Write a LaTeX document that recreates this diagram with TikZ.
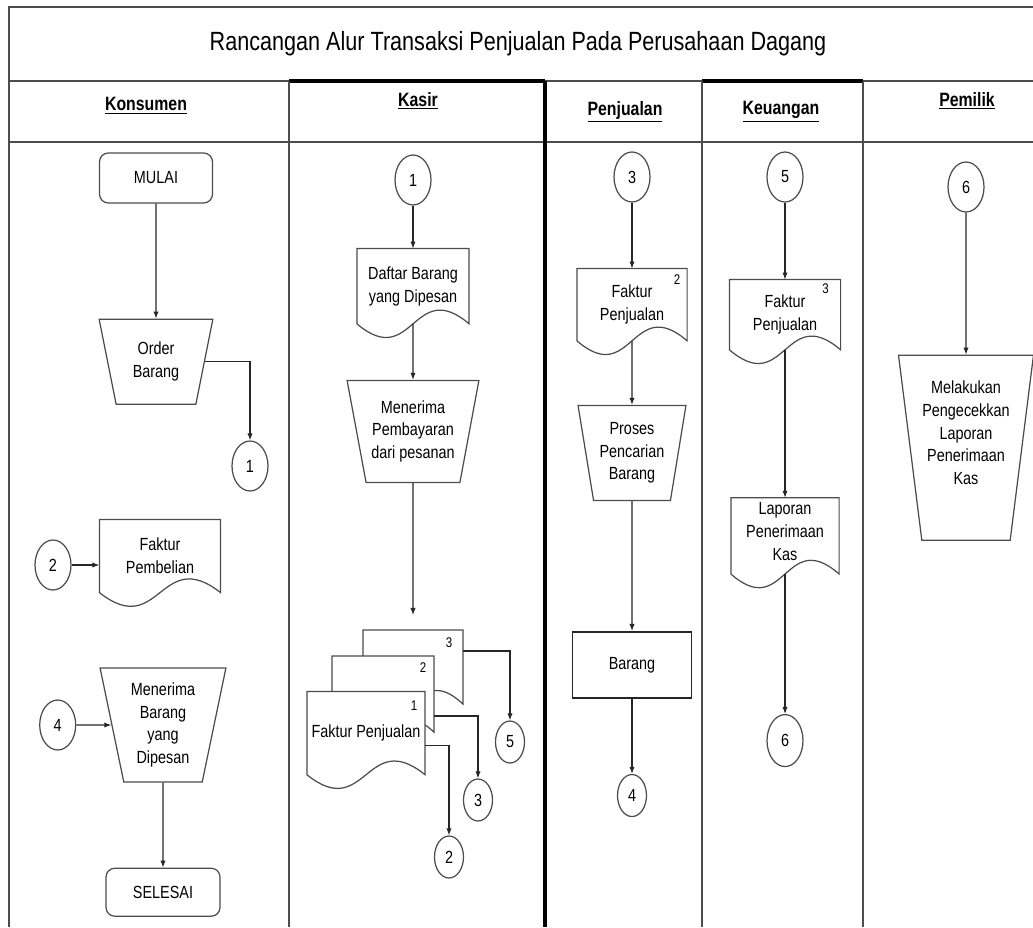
\documentclass[tikz,border=0pt]{standalone}
\usepackage{fontspec}
\setmainfont{Liberation Sans}[FakeStretch=0.82]
\usetikzlibrary{arrows.meta,positioning,shapes.geometric}

% document symbol with a wavy bottom edge
\makeatletter
\pgfdeclareshape{flowdoc}{
  \inheritsavedanchors[from=rectangle]
  \inheritanchorborder[from=rectangle]
  \inheritanchor[from=rectangle]{center}
  \inheritanchor[from=rectangle]{north}
  \inheritanchor[from=rectangle]{south}
  \inheritanchor[from=rectangle]{east}
  \inheritanchor[from=rectangle]{west}
  \inheritanchor[from=rectangle]{north east}
  \inheritanchor[from=rectangle]{north west}
  \inheritanchor[from=rectangle]{south east}
  \inheritanchor[from=rectangle]{south west}
  \backgroundpath{%
    \southwest \edef\docxa{\the\pgf@x}\edef\docya{\the\pgf@y}%
    \northeast \edef\docxb{\the\pgf@x}\edef\docyb{\the\pgf@y}%
    \pgfmathsetmacro\docxc{0.5*(\docxa)+0.5*(\docxb)}%
    \pgfmathsetmacro\docydn{\docya-27}%
    \pgfmathsetmacro\docyup{\docya+27}%
    \pgfpathmoveto{\pgfqpoint{\docxa}{\docya}}%
    \pgfpathcurveto{\pgfqpoint{\docxc pt}{\docydn pt}}{\pgfqpoint{\docxc pt}{\docyup pt}}{\pgfqpoint{\docxb}{\docya}}%
    \pgfpathlineto{\pgfqpoint{\docxb}{\docyb}}%
    \pgfpathlineto{\pgfqpoint{\docxa}{\docyb}}%
    \pgfpathclose
  }
}
\makeatother

\begin{document}
\begin{tikzpicture}[x=0.02cm, y=-0.02cm,
    termblock/.style={draw=black!70, line width=0.7pt, rounded corners=5pt, minimum width=2.26cm, minimum height=1cm, inner sep=1pt, font=\fontsize{10}{13}\selectfont},
    manblock/.style={draw=black!70, line width=0.7pt, trapezium, shape border rotate=180, trapezium stretches=true, trapezium left angle=76, trapezium right angle=76, align=center, inner sep=1pt, font=\fontsize{10}{13}\selectfont},
    docblock/.style={shape=flowdoc, draw=black!70, fill=white, line width=0.7pt, minimum width=2.2cm, minimum height=1.44cm, align=center, inner sep=1pt, font=\fontsize{10}{13}\selectfont},
    procblock/.style={draw=black!85, line width=1.1pt, minimum width=2.38cm, minimum height=1.32cm, font=\fontsize{10}{13}\selectfont},
    conn/.style={draw=black!70, line width=0.7pt, ellipse, minimum width=0.72cm, minimum height=1cm, inner sep=0pt, font=\fontsize{10}{12}\selectfont},
    smallconn/.style={conn, minimum width=0.58cm, minimum height=0.84cm},
    docnum/.style={inner sep=0pt, font=\fontsize{8}{9}\selectfont},
    lanehead/.style={font=\fontsize{11}{13}\selectfont\bfseries},
    frame/.style={draw=black!70, line width=0.8pt},
    arrow/.style={-{Latex[length=4pt,width=3pt]}, draw=black!85, line width=0.6pt}
  ]
  \useasboundingbox (0,0) rectangle (1033,927);

  % Lanes
  \draw[frame] (9,927) -- (9,7) -- (1033,7);
  \draw[frame] (9,81) -- (1033,81);
  \draw[frame] (9,142) -- (1033,142);
  \draw[line width=2.4pt] (289,81) -- (545,81);
  \draw[line width=2.4pt] (702,81) -- (863,81);
  \draw[frame] (289,81) -- (289,927);
  \draw[line width=1.8pt] (545,81) -- (545,927);
  \draw[frame] (702,81) -- (702,927);
  \draw[frame] (863,81) -- (863,927);

  \node (title) at (518,44) {\fontsize{15}{18}\selectfont Rancangan Alur Transaksi Penjualan Pada Perusahaan Dagang};
  \node[lanehead] (hkons) at (146,106) {\underline{Konsumen}};
  \node[lanehead] (hkasir) at (418,101) {\underline{Kasir}};
  \node[lanehead] (hjual) at (625,112) {\underline{Penjualan}};
  \node[lanehead] (huang) at (781,112) {\underline{Keuangan}};
  \node[lanehead] (hmilik) at (967,101) {\underline{Pemilik}};

  % Konsumen
  \node[termblock] (mulai) at (156,178) {MULAI};
  \node[manblock, minimum width=2.28cm, minimum height=1.7cm, below=2.3cm of mulai] (order) {Order\\Barang};
  \node[conn] (k1) at (250,466) {1};
  \node[docblock, minimum width=2.4cm] (fbeli) at (160,556) {Faktur\\Pembelian};
  \node[conn] (k2) at (53,565) {2};
  \node[manblock, minimum width=2.52cm, minimum height=2.28cm, trapezium left angle=77, trapezium right angle=77] (terima) at (163,725) {Menerima\\Barang\\yang\\Dipesan};
  \node[conn, left=0.7cm of terima] (k4) {4};
  \node[termblock, minimum width=2.28cm, minimum height=0.96cm, below=1.7cm of terima] (selesai) {SELESAI};

  % Kasir
  \node[conn] (s1) at (413,180) {1};
  \node[docblock, minimum width=2.22cm, minimum height=1.48cm, below=0.86cm of s1] (daftar) {Daftar Barang\\yang Dipesan};
  \node[manblock, minimum width=2.64cm, minimum height=2.04cm, trapezium left angle=75, trapezium right angle=75, below=1.12cm of daftar] (bayar) {Menerima\\Pembayaran\\dari pesanan};
  \node[docblock, minimum width=1.98cm, minimum height=1.46cm, below=2.94cm of bayar] (fj3) {};
  \node[docnum] (fj3n) at ([shift={(-14,13)}]fj3.north east) {3};
  \node[docblock, minimum width=2.02cm, minimum height=1.5cm] (fj2) at ([shift={(-30,27)}]fj3.center) {};
  \node[docnum] (fj2n) at ([shift={(-11,12)}]fj2.north east) {2};
  \node[docblock, minimum width=2.34cm, minimum height=1.64cm] (fj1) at ([shift={(-17,39)}]fj2.center) {Faktur Penjualan};
  \node[docnum] (fj1n) at ([shift={(-11,14)}]fj1.north east) {1};
  \node[smallconn] (s5) at (510,742) {5};
  \node[smallconn] (s3) at (478,800) {3};
  \node[smallconn] (s2) at (449,857) {2};

  % Penjualan
  \node[conn] (p3) at (632,177) {3};
  \node[docblock, minimum width=2.18cm, minimum height=1.42cm, below=1.32cm of p3] (fjual2) {Faktur\\Penjualan};
  \node[docnum] (fjual2n) at ([shift={(-10,11)}]fjual2.north east) {2};
  \node[manblock, minimum width=2.16cm, minimum height=1.9cm, trapezium left angle=78, trapezium right angle=78, below=1.28cm of fjual2] (proses) {Proses\\Pencarian\\Barang};
  \node[procblock, below=2.6cm of proses] (barang) {Barang};
  \node[smallconn, below=1.5cm of barang] (p4) {4};

  % Keuangan
  \node[conn] (u5) at (785,177) {5};
  \node[docblock, minimum width=2.2cm, minimum height=1.38cm, below=1.54cm of u5] (fjual3) {Faktur\\Penjualan};
  \node[docnum] (fjual3n) at ([shift={(-15,9)}]fjual3.north east) {3};
  \node[docblock, minimum width=2.14cm, minimum height=1.5cm, text depth=5pt, below=2.96cm of fjual3] (lapor) {Laporan\\Penerimaan\\Kas};
  \node[conn, minimum height=1.04cm, below=2.8cm of lapor] (u6) {6};

  % Pemilik
  \node[conn] (m6) at (966,187) {6};
  \node[manblock, inner xsep=-4pt, minimum width=2.7cm, minimum height=3.7cm, trapezium left angle=82, trapezium right angle=82, below=2.84cm of m6] (cek) {Melakukan\\Pengecekkan\\Laporan\\Penerimaan\\Kas\\[4pt]\mbox{}};

  % Arrows
  \draw[arrow] (mulai) -- (order);
  \draw[arrow] (order.east) -| (k1);
  \draw[arrow] (k2) -- (k2 -| fbeli.west);
  \draw[arrow] (k4) -- (terima);
  \draw[arrow] (terima) -- (selesai);
  \draw[arrow] (s1) -- (daftar);
  \draw[arrow] (daftar) -- (bayar);
  \draw[arrow, shorten >=0.3cm] (bayar) -- (fj3);
  \draw[arrow] ([yshift=-0.42cm]fj3.north east) -| (s5);
  \draw[arrow] ([yshift=-1.2cm]fj2.north east) -| (s3);
  \draw[arrow] ([yshift=-1.08cm]fj1.north east) -| (s2);
  \draw[arrow] (p3) -- (fjual2);
  \draw[arrow] (fjual2) -- (proses);
  \draw[arrow] (proses) -- (barang);
  \draw[arrow] (barang) -- (p4);
  \draw[arrow] (u5) -- (fjual3);
  \draw[arrow] (fjual3) -- (lapor);
  \draw[arrow] (lapor) -- (u6);
  \draw[arrow] (m6) -- (cek);
\end{tikzpicture}
\end{document}
